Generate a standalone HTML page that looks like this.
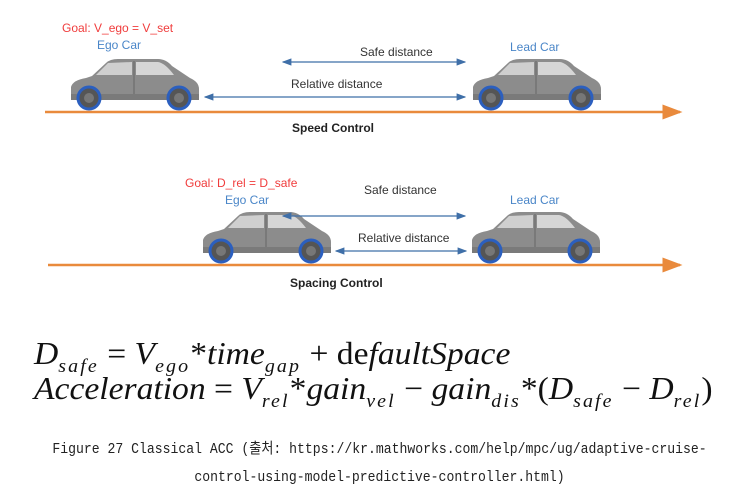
<!DOCTYPE html>
<html><head><meta charset="utf-8">
<style>
body{margin:0;background:#fff;width:751px;height:501px;overflow:hidden;position:relative}
.t{position:absolute;font-family:"Liberation Sans",sans-serif;font-size:12px;white-space:nowrap;color:#333}
.red{color:#f03c3c}.blue{color:#4a86c8}.b{font-weight:bold;color:#222}
.f{position:absolute;left:34px;font-family:"Liberation Serif",serif;font-style:italic;font-size:32px;color:#111;white-space:nowrap;line-height:1;transform:scaleX(1.05);transform-origin:0 0}
.f sub{font-size:19px;vertical-align:-8px;letter-spacing:2px}
.f .n{font-style:normal}
.cap{position:absolute;width:751px;text-align:center;font-family:"Liberation Mono","Noto Sans CJK KR",monospace;font-size:15px;color:#222;transform:scaleX(0.875)}
</style></head><body>
<svg width="751" height="330" style="position:absolute;left:0;top:0">
<defs>
<marker id="ah" markerWidth="8" markerHeight="8" refX="7" refY="4" orient="auto-start-reverse"><path d="M0,1 L8,4 L0,7 Z" fill="#3f6fa8"/></marker>
<marker id="oh" markerWidth="8" markerHeight="8" refX="7" refY="4" orient="auto"><path d="M0,1 L8,4 L0,7 Z" fill="#e98a3c"/></marker>
<g id="car">
<path d="M3,42 L3,29 Q5,22 18,20 L24,18 L38,5 Q42,1 50,1 L90,1 Q98,1 104,8 L122,20 Q131,24 131,31 L131,42 Z" fill="#8c8c8c"/>
<path d="M3,36 L131,36 L131,42 L3,42 Z" fill="#7a7a7a"/>
<path d="M28,17 L40,5 L64,4 L64,17 Z" fill="#cfcfcf"/>
<path d="M68,4 L90,4 Q97,5 106,17 L68,17 Z" fill="#d6d6d6"/>
<line x1="66" y1="3" x2="66" y2="36" stroke="#666" stroke-width="1"/>
<circle cx="21" cy="40" r="11" fill="#555" stroke="#2b5fbf" stroke-width="3"/>
<circle cx="21" cy="40" r="5" fill="#777"/>
<circle cx="111" cy="40" r="11" fill="#555" stroke="#2b5fbf" stroke-width="3"/>
<circle cx="111" cy="40" r="5" fill="#777"/>
</g>
</defs>
<use href="#car" x="68" y="58"/>
<use href="#car" x="470" y="58"/>
<use href="#car" x="200" y="211"/>
<use href="#car" x="469" y="211"/>
<line x1="45" y1="112" x2="680" y2="112" stroke="#e98a3c" stroke-width="2.5" marker-end="url(#oh)"/>
<line x1="48" y1="265" x2="680" y2="265" stroke="#e98a3c" stroke-width="2.5" marker-end="url(#oh)"/>
<line x1="283" y1="62" x2="465" y2="62" stroke="#3f6fa8" stroke-width="1.2" marker-start="url(#ah)" marker-end="url(#ah)"/>
<line x1="205" y1="97" x2="465" y2="97" stroke="#3f6fa8" stroke-width="1.2" marker-start="url(#ah)" marker-end="url(#ah)"/>
<line x1="283" y1="216" x2="465" y2="216" stroke="#3f6fa8" stroke-width="1.2" marker-start="url(#ah)" marker-end="url(#ah)"/>
<line x1="336" y1="251" x2="466" y2="251" stroke="#3f6fa8" stroke-width="1.2" marker-start="url(#ah)" marker-end="url(#ah)"/>
</svg>
<div class="t red" style="left:62px;top:21px">Goal: V_ego = V_set</div>
<div class="t blue" style="left:97px;top:38px">Ego Car</div>
<div class="t blue" style="left:510px;top:40px">Lead Car</div>
<div class="t" style="left:360px;top:45px">Safe distance</div>
<div class="t" style="left:291px;top:77px">Relative distance</div>
<div class="t b" style="left:292px;top:121px">Speed Control</div>
<div class="t red" style="left:185px;top:176px">Goal: D_rel = D_safe</div>
<div class="t blue" style="left:225px;top:193px">Ego Car</div>
<div class="t blue" style="left:510px;top:193px">Lead Car</div>
<div class="t" style="left:364px;top:183px">Safe distance</div>
<div class="t" style="left:358px;top:231px">Relative distance</div>
<div class="t b" style="left:290px;top:276px">Spacing Control</div>
<div class="f" style="top:337px">D<sub>safe</sub> <span class="n">=</span> V<sub>ego</sub><span class="n">*</span>time<sub>gap</sub> <span class="n">+ de</span>faultSpace</div>
<div class="f" style="top:372px">Acceleration <span class="n">=</span> V<sub>rel</sub><span class="n">*</span>gain<sub>vel</sub> <span class="n">−</span> gain<sub>dis</sub><span class="n">*(</span>D<sub>safe</sub> <span class="n">−</span> D<sub>rel</sub><span class="n">)</span></div>
<div class="cap" style="left:4px;top:437px">Figure 27 Classical ACC (출처: https://kr.mathworks.com/help/mpc/ug/adaptive-cruise-</div>
<div class="cap" style="left:4px;top:469px">control-using-model-predictive-controller.html)</div>
</body></html>
